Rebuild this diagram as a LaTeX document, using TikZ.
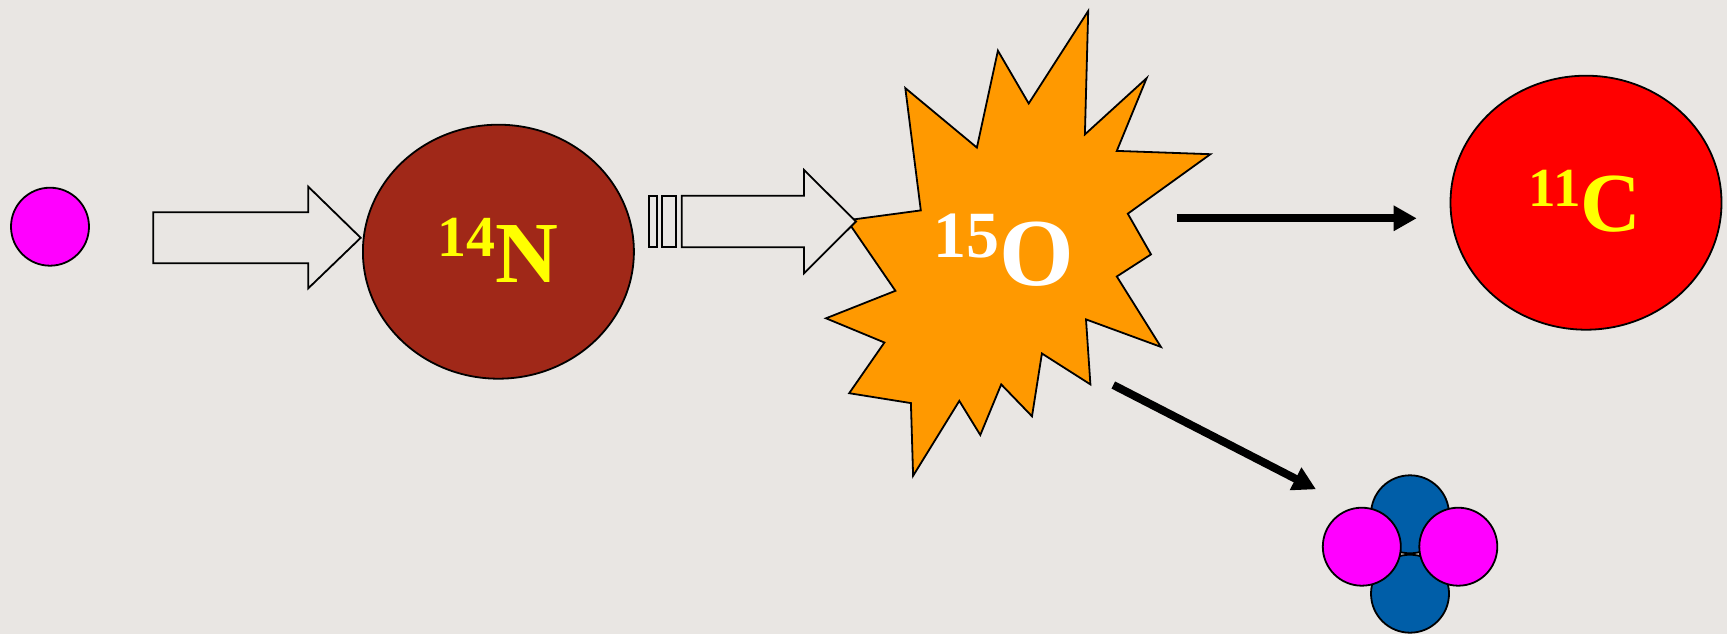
\documentclass[tikz,border=0pt]{standalone}
\usepackage{fontspec}
\setmainfont{Liberation Serif}
\usetikzlibrary{arrows.meta,shapes.geometric}
\definecolor{slidebg}{RGB}{233,230,227}
\definecolor{nitrogen}{RGB}{160,40,24}
\definecolor{burstorange}{RGB}{255,153,0}
\definecolor{carbonred}{RGB}{255,0,0}
\definecolor{nucblue}{RGB}{0,94,168}
\definecolor{protonpink}{RGB}{255,0,255}
\definecolor{labelyellow}{RGB}{255,255,0}
\newcommand{\isolabel}[5]{%
  {\fontsize{#1}{#1}\bfseries\selectfont\raisebox{#2}{#3}}%
  {\fontsize{#4}{#4}\bfseries\selectfont #5}}
\begin{document}
\begin{tikzpicture}[
  x=1pt,y=-1pt,
  outline/.style={draw=black,line width=1.8pt},
  proton/.style={circle,outline,fill=protonpink,minimum size=78pt,inner sep=0pt},
  neutron/.style={circle,outline,fill=nucblue,minimum size=78pt,inner sep=0pt},
  nucleus/.style={ellipse,outline,minimum width=271pt,minimum height=254pt,
                  inner sep=0pt},
  blockarrow/.style={outline,fill=slidebg,line join=miter},
  isotope/.style={anchor=base west,inner sep=0pt},
  emitarrow/.style={-{Triangle[length=23pt,width=24pt]},line width=8pt}
]
\useasboundingbox (0,0) rectangle (1727,634);
\fill[slidebg] (0,0) rectangle (1727,634);

\node[proton] (alpha) at (50,226.7) {};

\draw[blockarrow] (153.3,212.3) -- (308.3,212.3) -- (308.3,186.7)
  -- (360.7,237.8) -- (308.3,288.3) -- (308.3,263.3) -- (153.3,263.3) -- cycle;

\node[nucleus,fill=nitrogen] (N14) at (498.4,251.7) {};
\node[isotope,text=labelyellow] (N14lbl) at (437.7,282.7)
  {\isolabel{58}{26.7pt}{14}{87}{N}};

\draw[outline,fill=burstorange,line join=miter]
  (1088.2,11.0) -- (1084.9,134.4) -- (1146.6,78.2) -- (1116.8,150.9)
  -- (1210.4,154.2) -- (1127.8,213.7) -- (1151.0,254.4) -- (1116.8,276.5)
  -- (1160.9,346.9) -- (1086.0,319.4) -- (1090.4,384.4) -- (1041.9,353.5)
  -- (1032.0,416.3) -- (1001.2,384.4) -- (980.3,435.0) -- (959.3,400.9)
  -- (913.1,475.8) -- (910.9,403.1) -- (849.2,393.2) -- (884.4,342.5)
  -- (826.0,318.3) -- (895.4,290.8) -- (847.0,220.3) -- (920.8,210.4)
  -- (905.3,88.1) -- (976.9,147.6) -- (997.9,50.7) -- (1028.7,103.5) -- cycle;
\node[isotope,text=white] (O15lbl) at (933.7,285)
  {\isolabel{66}{27.7pt}{15}{96}{O}};

\draw[blockarrow] (649.3,195.7) rectangle (656.7,247.3);
\draw[blockarrow] (662.3,195.7) rectangle (675.7,247.3);
\draw[blockarrow] (681.7,195.7) -- (804,195.7) -- (804,170)
  -- (856,221.5) -- (804,273.3) -- (804,247.3) -- (681.7,247.3) -- cycle;

\node[nucleus,fill=carbonred] (C11) at (1586,202.7) {};
\node[isotope,text=labelyellow] (C11lbl) at (1528.4,231.7)
  {\isolabel{55}{25pt}{11}{84}{C}};

\node[neutron] (nA) at (1410,514.3) {};
\node[neutron] (nB) at (1410,593.7) {};
\node[proton]  (pA) at (1361.8,546.7) {};
\node[proton]  (pB) at (1458.3,546.7) {};

\coordinate (burstR) at (1176.7,218.3);
\coordinate (towardC) at (1416.7,218.3);
\coordinate (burstD) at (1113.3,385);
\coordinate (towardHe) at (1316,489.3);
\draw[emitarrow] (burstR) -- (towardC);
\draw[emitarrow] (burstD) -- (towardHe);
\end{tikzpicture}
\end{document}
